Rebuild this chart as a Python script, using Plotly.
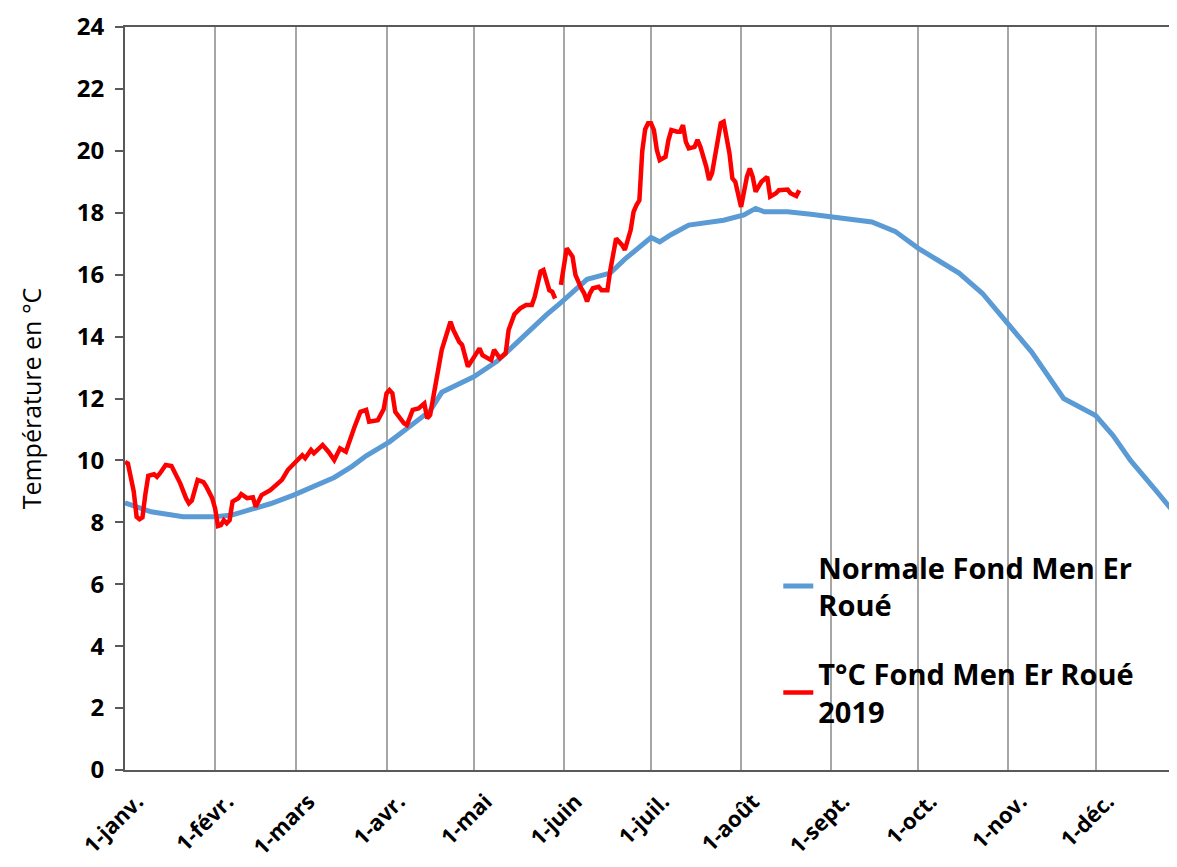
import pandas as pd
import plotly.graph_objects as go

# Day offsets from 1 January (2019 calendar)
normal_day = [0, 9, 20, 31, 37, 43, 50, 58, 65, 72, 78, 83, 91, 96, 105, 109, 112, 116, 120,
              128, 136, 140, 145, 150, 155, 159, 165, 167, 172, 177, 181, 184, 188, 194, 200,
              206, 213, 217, 220, 228, 236, 244, 249, 257, 265, 273, 280, 287, 295, 304, 312,
              323, 334, 340, 346, 355, 362]
normal_val = [8.63, 8.34, 8.18, 8.18, 8.24, 8.4, 8.6, 8.88, 9.15, 9.45, 9.8, 10.15, 10.6, 10.95,
              11.6, 12.2, 12.33, 12.5, 12.7, 13.2, 13.9, 14.3, 14.7, 15.1, 15.5, 15.85, 16.0,
              16.05, 16.5, 16.9, 17.2, 17.06, 17.3, 17.6, 17.7, 17.76, 17.93, 18.14, 18.03,
              18.03, 17.95, 17.87, 17.8, 17.7, 17.4, 16.85, 16.45, 16.05, 15.4, 14.4, 13.5,
              12.0, 11.45, 10.8, 10.0, 9.0, 8.2]

obs_day = [0, 1, 3, 4, 5, 6, 7, 8, 10, 11, 12, 13, 14, 16, 17, 19, 21, 22, 23, 25, 27, 28, 30,
           31, 32, 33, 34, 35, 36, 37, 39, 40, 42, 44, 45, 47, 50, 52, 54, 56, 58, 61, 62, 64,
           65, 68, 70, 72, 74, 76, 79, 81, 83, 84, 87, 89, 90, 91, 92, 93, 96, 97, 99, 101, 103,
           104, 105, 107, 109, 112, 113, 115, 116, 118, 119, 122, 123, 126, 127, 129, 131, 132,
           134, 136, 138, 140, 141, 143, 144, 145, 146, 147, 148, 149, 150, 151, 152, 154, 155,
           157, 158, 159, 160, 161, 163, 164, 166, 167, 169, 171, 172, 174, 175, 176, 177, 178,
           179, 180, 181, 182, 183, 184, 186, 187, 188, 190, 191, 192, 193, 194, 196, 197, 198,
           200, 201, 202, 204, 205, 206, 208, 209, 210, 212, 214, 215, 216, 217, 219, 221, 222,
           224, 225, 228, 229, 231, 232]
obs_val = [9.95, 9.9, 9.0, 8.18, 8.1, 8.16, 8.9, 9.5, 9.55, 9.47, 9.58, 9.74, 9.85, 9.82, 9.64,
           9.26, 8.78, 8.61, 8.7, 9.37, 9.3, 9.15, 8.78, 8.45, 7.88, 7.91, 8.07, 7.97, 8.07, 8.67,
           8.78, 8.91, 8.78, 8.81, 8.5, 8.88, 9.04, 9.2, 9.37, 9.69, 9.9, 10.17, 10.07, 10.34,
           10.23, 10.5, 10.28, 10.01, 10.39, 10.28, 11.09, 11.57, 11.63, 11.25, 11.3, 11.65,
           12.17, 12.27, 12.17, 11.57, 11.2, 11.14, 11.63, 11.68, 11.84, 11.36, 11.47, 12.49,
           13.57, 14.48, 14.21, 13.83, 13.73, 13.03, 13.19, 13.62, 13.4, 13.24, 13.57, 13.3,
           13.46, 14.21, 14.72, 14.91, 15.02, 15.02, 15.29, 16.1, 16.15, 15.88, 15.5, 15.45,
           15.23, None, 15.67, 16.37, 16.85, 16.58, 15.99, 15.56, 15.4, 15.13, 15.4, 15.56,
           15.61, 15.5, 15.5, 16.15, 17.17, 16.96, 16.8, 17.44, 18.03, 18.25, 18.4, 20.0, 20.7,
           20.89, 20.89, 20.67, 20.03, 19.7, 19.81, 20.35, 20.67, 20.62, 20.62, 20.83, 20.29,
           20.08, 20.13, 20.35, 20.13, 19.49, 19.06, 19.27, 20.24, 20.89, 20.94, 19.92, 19.11,
           19.0, 18.19, 19.16, 19.43, 19.16, 18.68, 19.0, 19.16, 18.52, 18.63, 18.73, 18.75,
           18.63, 18.54, 18.73]

month_ticks = ["2019-01-01", "2019-02-01", "2019-03-01", "2019-04-01", "2019-05-01",
               "2019-06-01", "2019-07-01", "2019-08-01", "2019-09-01", "2019-10-01",
               "2019-11-01", "2019-12-01"]
month_labels = ["1-janv.", "1-févr.", "1-mars", "1-avr.", "1-mai", "1-juin", "1-juil.",
                "1-août", "1-sept.", "1-oct.", "1-nov.", "1-déc."]
y_ticks = [0, 2, 4, 6, 8, 10, 12, 14, 16, 18, 20, 22, 24]

base = pd.Timestamp("2019-01-01")
normal_x = [base + pd.Timedelta(days=d) for d in normal_day]
obs_x = [base + pd.Timedelta(days=d) for d in obs_day]

fig = go.Figure()
fig.add_trace(go.Scatter(x=normal_x, y=normal_val, mode="lines",
                         name="Normale Fond Men Er<br>Roué", legendgroup="a",
                         line=dict(color="#5B9BD5", width=5)))
fig.add_trace(go.Scatter(x=obs_x, y=obs_val, mode="lines",
                         name="T°C Fond Men Er Roué<br>2019", legendgroup="b",
                         line=dict(color="#FF0000", width=4.5), connectgaps=False))

font_family = "'Open Sans', Lato, Arial, sans-serif"
fig.update_layout(
    width=1169, height=851,
    margin=dict(l=117, r=0, t=19, b=89, autoexpand=False),
    plot_bgcolor="white", paper_bgcolor="white",
    font=dict(family=font_family, color="black"),
    showlegend=True,
    legend=dict(x=0.621, y=0.307, xanchor="left", yanchor="top",
                font=dict(size=29, family=font_family, weight="bold"),
                bgcolor="rgba(255,255,255,0)", tracegroupgap=28),
)
fig.update_xaxes(
    type="date", range=["2019-01-01", "2019-12-29"], automargin=False,
    tickvals=month_ticks, ticktext=month_labels, tickangle=-45,
    tickfont=dict(size=22, weight="bold"),
    ticklabelstandoff=8, ticklabelshift=12,
    showgrid=True, gridcolor="#A6A6A6", gridwidth=2,
    showline=True, linecolor="#595959", linewidth=2, mirror=True,
    ticks="", zeroline=False,
)
fig.update_yaxes(
    range=[0, 24], tickvals=y_ticks, automargin=False,
    tickfont=dict(size=24, weight="bold"),
    showgrid=False, zeroline=False,
    showline=True, linecolor="#595959", linewidth=2,
    ticks="outside", ticklen=8, tickcolor="#595959", tickwidth=2,
    ticklabelstandoff=6,
    title=dict(text="Température en °C", font=dict(size=25), standoff=28),
)

fig.write_html("out.html")
